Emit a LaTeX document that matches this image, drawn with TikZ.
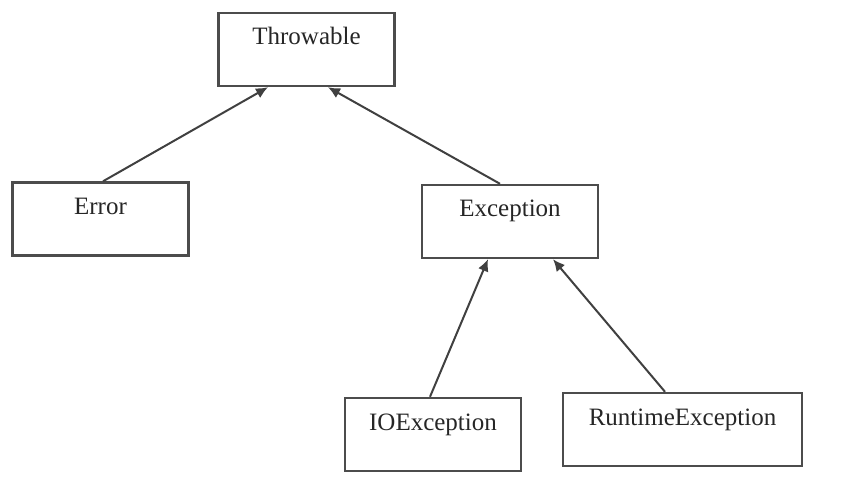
\documentclass[tikz,border=0pt]{standalone}
\usepackage{fontspec}
\setmainfont{Liberation Serif}
\usetikzlibrary{arrows.meta}
\tikzset{
  cls/.style={draw=black!70, line width=2.4pt, rectangle, minimum width=176pt,
    inner xsep=0pt, inner ysep=0pt, text height=32pt, text depth=41pt,
    text=black!85, font=\fontsize{25}{29}\selectfont},
  inherit/.style={draw=black!75, line width=2pt, -{Latex[length=12pt,width=11pt]}}
}
\begin{document}
\begin{tikzpicture}[x=1pt,y=-1pt]
      \useasboundingbox (0,0) rectangle (864,502);
      \draw
        (306.5,49.5) node[cls] (throwable){Throwable}
        (100.5,219) node[cls] (error){Error}
        (510,221.5) node[cls] (exception){Exception}
        (433,434.5) node[cls] (ioexception){IOException}
        (682.5,429.5) node[cls, minimum width=239pt] (runtime){RuntimeException};
      \begin{scope}[inherit]
        \draw ([xshift=2.5pt]error.north) to ([xshift=-38.5pt]throwable.south);
        \draw ([xshift=-10pt]exception.north) to ([xshift=21.5pt]throwable.south);
        \draw ([xshift=-3pt]ioexception.north) to ([xshift=-22pt]exception.south);
        \draw ([xshift=-17.5pt]runtime.north) to ([xshift=43pt]exception.south);
      \end{scope}
    \end{tikzpicture}
\end{document}
